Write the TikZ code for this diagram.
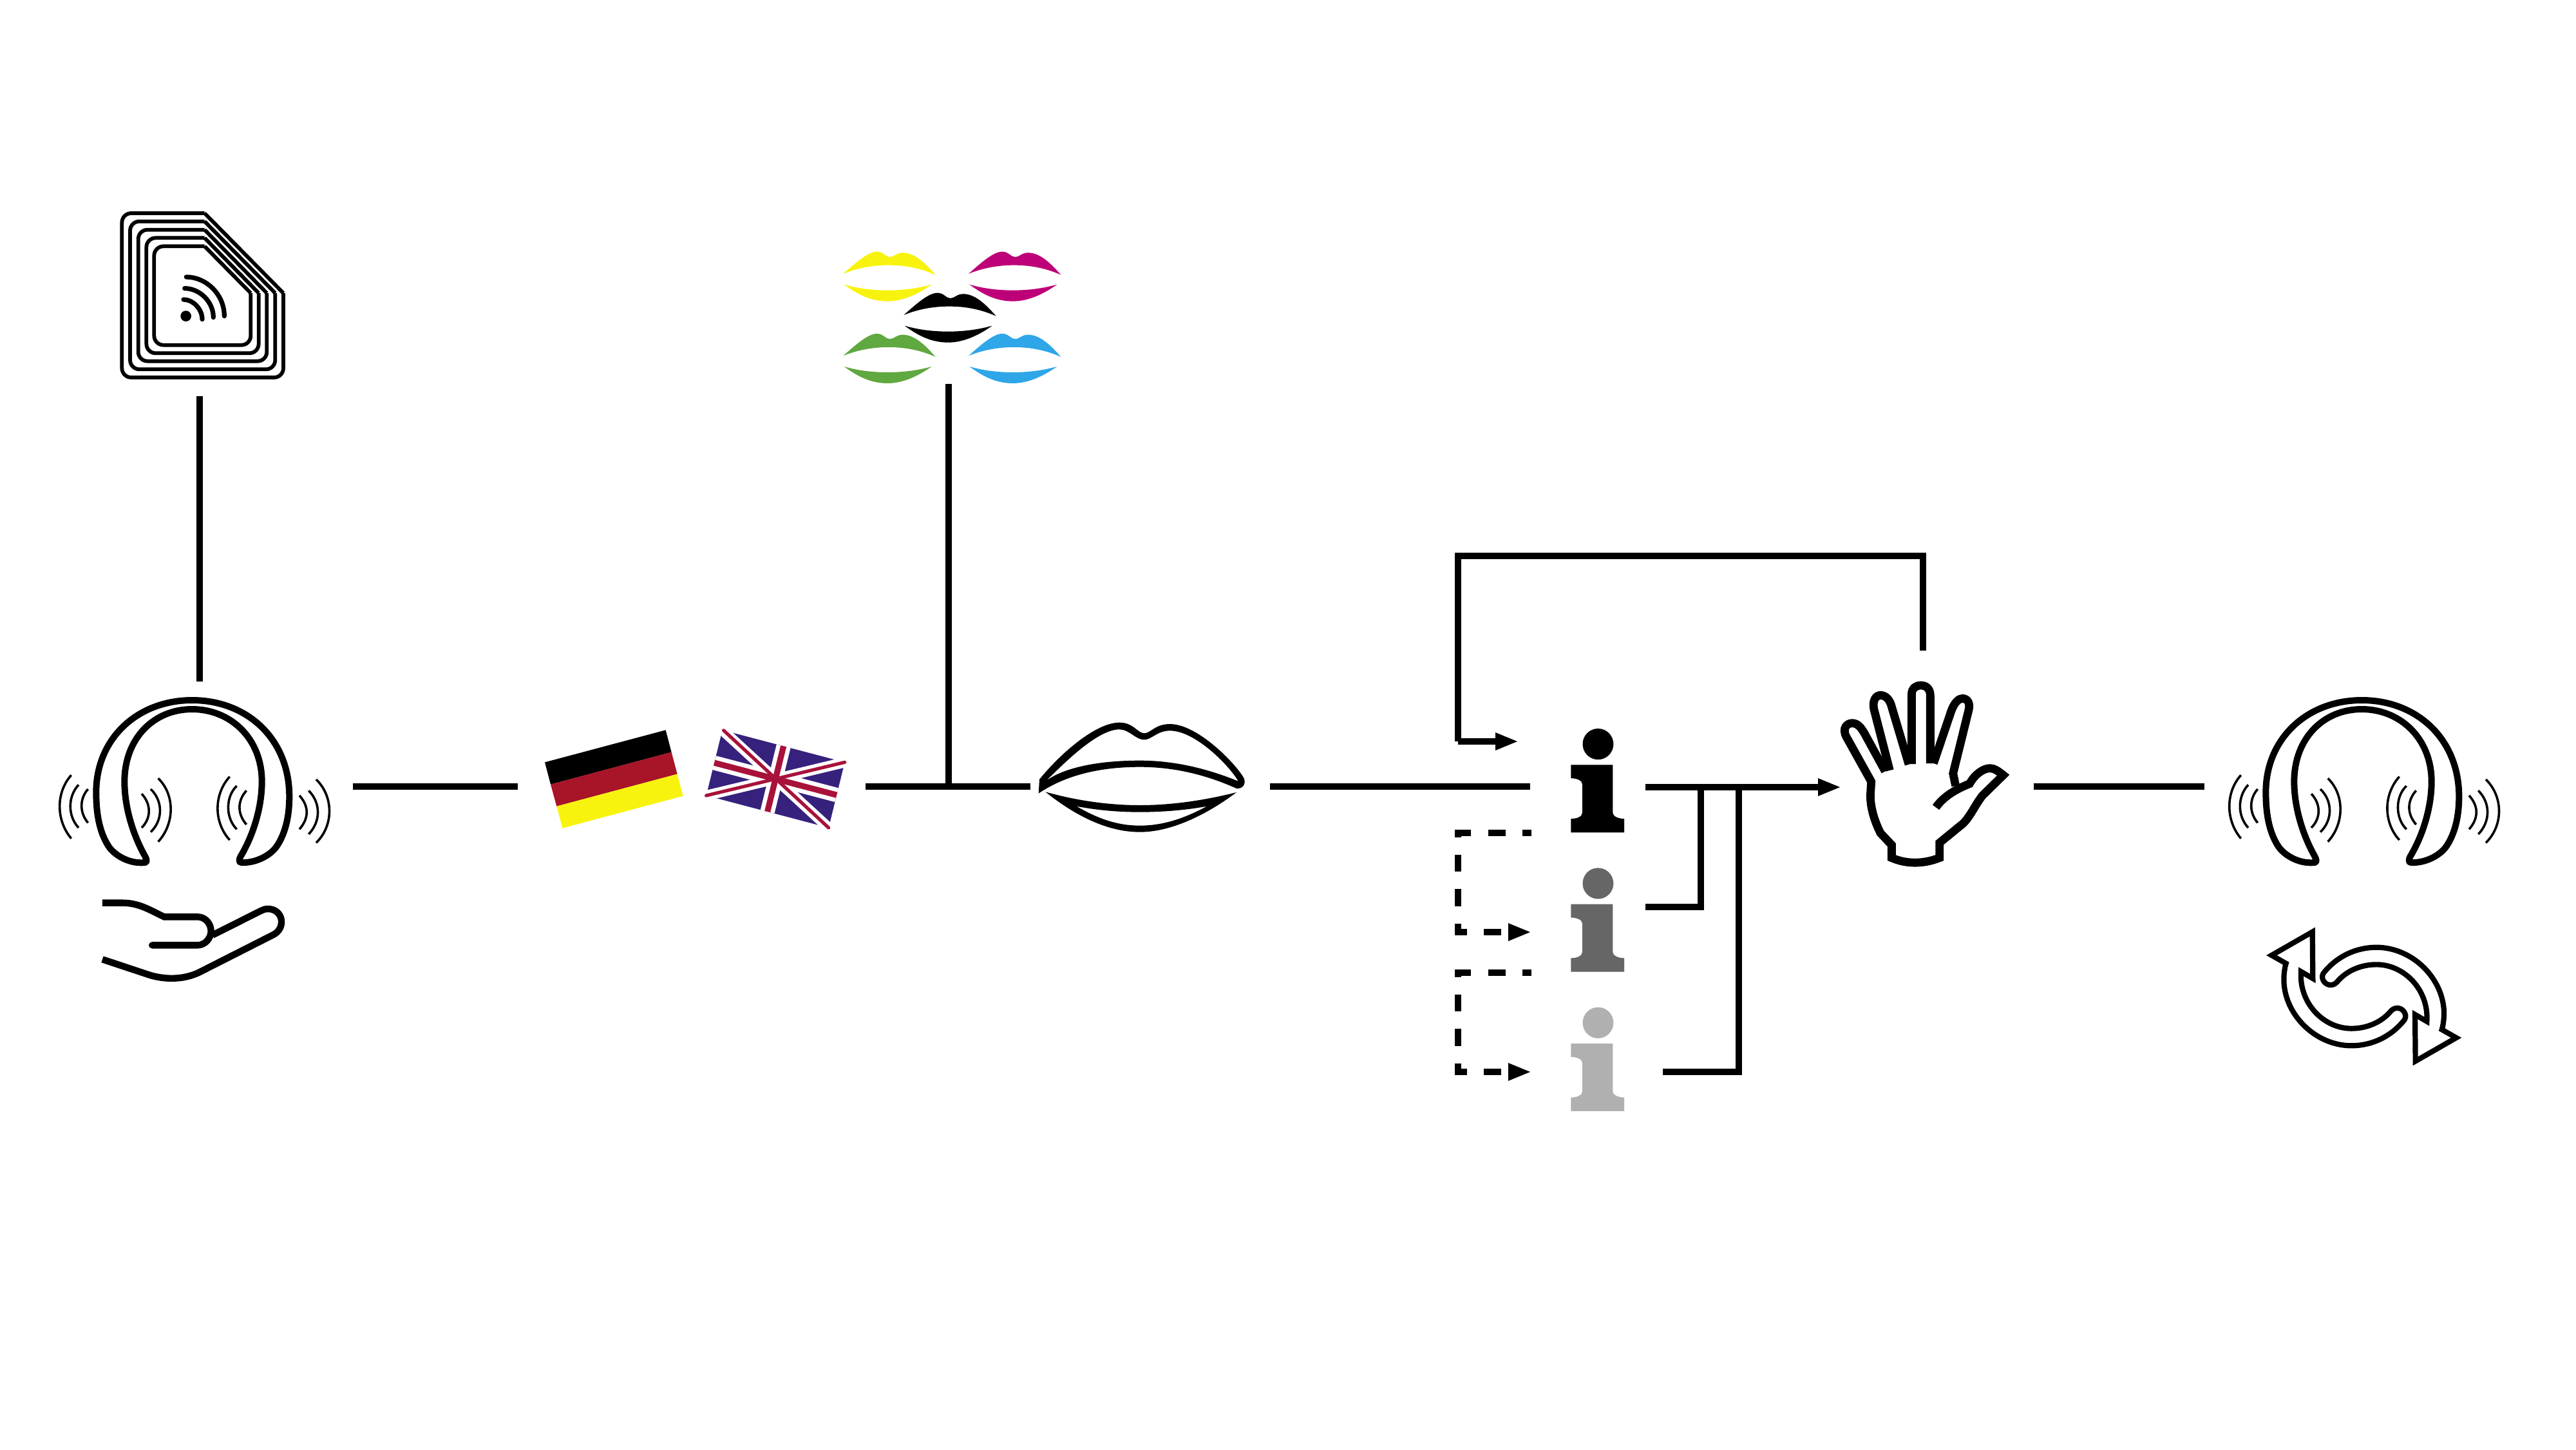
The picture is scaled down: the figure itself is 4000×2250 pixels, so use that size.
\documentclass[tikz,border=0pt]{standalone}
\usetikzlibrary{arrows.meta,calc}
\definecolor{ylw}{HTML}{F8F30E}
\definecolor{mgn}{HTML}{BE0078}
\definecolor{grn}{HTML}{60A840}
\definecolor{cyn}{HTML}{2EA6E8}
\definecolor{dered}{HTML}{A81428}
\definecolor{ukblue}{HTML}{36217C}
\definecolor{ukred}{HTML}{A8123A}
\definecolor{midgrey}{HTML}{666666}
\definecolor{ltgrey}{HTML}{B0B0B0}
\tikzset{
  zm/.style 2 args={shift={(#1,#2)},x=0.083333pt,y=-0.083333pt},
  link/.style={line width=2.3pt,black},
  linkarrow/.style={link,-{Triangle[length=9pt,width=6.2pt]}},
  dashlink/.style={link,dash pattern=on 6.7pt off 6.7pt,dash phase=3.3pt,-{Triangle[length=9pt,width=6.2pt]}},
  wave/.style={line width=0.9pt},
  hpline/.style={line width=2.5pt,line join=round},
}
\newcommand{\headset}[2]{%
\begin{scope}[zm={#1}{#2}]
\draw[hpline] (495,897) .. controls (420,905) and (350,860) .. (325,820) .. controls (280,750) and (268,660) .. (268,570) .. controls (268,320) and (460,141) .. (715,141) .. controls (970,141) and (1168,320) .. (1168,590) .. controls (1168,680) and (1150,760) .. (1110,820) .. controls (1080,865) and (1010,900) .. (945,897) .. controls (930,897) and (935,880) .. (940,870) .. controls (1000,770) and (1040,640) .. (1040,520) .. controls (1040,320) and (895,183) .. (715,183) .. controls (535,183) and (400,320) .. (400,520) .. controls (400,640) and (440,770) .. (497,870) .. controls (505,885) and (505,897) .. (495,897) -- cycle;
\draw[wave] (152,490) .. controls (80,570) and (80,700) .. (152,785);
\draw[wave] (186,535) .. controls (135,590) and (135,680) .. (186,735);
\draw[wave] (230,555) .. controls (190,600) and (190,665) .. (230,712);
\draw[wave] (480,577) .. controls (525,625) and (525,690) .. (480,735);
\draw[wave] (522,555) .. controls (580,610) and (580,700) .. (522,755);
\draw[wave] (557,505) .. controls (635,580) and (635,715) .. (557,800);
\draw[wave] (890,497) .. controls (815,580) and (815,710) .. (890,792);
\draw[wave] (923,540) .. controls (870,590) and (870,690) .. (923,742);
\draw[wave] (968,562) .. controls (925,610) and (925,670) .. (968,720);
\draw[wave] (1215,585) .. controls (1260,635) and (1260,690) .. (1215,742);
\draw[wave] (1258,562) .. controls (1315,620) and (1315,705) .. (1258,765);
\draw[wave] (1293,510) .. controls (1375,590) and (1375,725) .. (1293,805);
\end{scope}}
\newcommand{\minilip}[3]{%
\begin{scope}[zm={1280}{360},shift={(#1,#2)}]
\fill[#3] (88,195) .. controls (150,140) and (205,92) .. (245,92) .. controls (275,92) and (285,117) .. (305,117) .. controls (325,117) and (335,97) .. (365,97) .. controls (420,97) and (470,145) .. (518,200) .. controls (450,170) and (380,155) .. (300,155) .. controls (220,155) and (150,170) .. (88,195) -- cycle;
\fill[#3] (92,245) .. controls (160,265) and (230,272) .. (295,272) .. controls (370,272) and (440,262) .. (500,245) .. controls (430,295) and (360,323) .. (295,323) .. controls (220,323) and (160,295) .. (92,245) -- cycle;
\end{scope}}
\newcommand{\infoi}[2]{%
\begin{scope}[shift={(2240,1120)},x=0.089286pt,y=-0.102041pt,shift={(0,#1)}]
\fill[#2] (676,86) ellipse [x radius=67,y radius=59];
\fill[#2] (558,165) -- (740,165) -- (740,345) .. controls (740,362) and (765,370) .. (790,370) -- (790,422) -- (558,422) -- (558,370) .. controls (585,370) and (608,362) .. (608,345) -- (608,240) .. controls (608,225) and (585,216) .. (558,216) -- cycle;
\end{scope}}
\newcommand{\turnarrow}{%
\draw[line width=2.05pt,miter limit=10] (325,270) .. controls (390,190) and (480,152) .. (570,152) .. controls (740,152) and (885,300) .. (885,460) .. controls (885,490) and (880,520) .. (875,535) -- (942,573) -- (752,682) -- (750,465) -- (805,497) .. controls (815,350) and (700,232) .. (570,232) .. controls (500,232) and (430,260) .. (385,315) .. controls (365,335) and (335,330) .. (322,305) .. controls (315,290) and (318,280) .. (325,270) -- cycle;}
\begin{document}
\begin{tikzpicture}[x=0.25pt,y=-0.25pt]
\useasboundingbox (0,0) rectangle (4000,2250);
\fill[white] (0,0) rectangle (4000,2250);

% RFID tag
\begin{scope}[zm={160}{300},line width=1.45pt]
\foreach \l/\t/\r/\b in {88/93/840/858,126/131/802/820,164/170/763/782,202/208/725/745,238/247/688/707}{
 \draw[rounded corners=3.6pt] (473,\t) -- (\l,\t) -- (\l,\b) -- (\r,\b) -- (\r,465);
 \draw (\r,465) -- (473,\t);
}
\fill (386,572) circle (25);
\draw[line width=1.8pt,line cap=round] (375,495) .. controls (420,495) and (462,540) .. (462,587);
\draw[line width=1.8pt,line cap=round] (380,443) .. controls (450,443) and (514,505) .. (514,578);
\draw[line width=1.8pt,line cap=round] (388,390) .. controls (480,390) and (565,470) .. (565,572);
\end{scope}

% headphones
\headset{60}{1040}
\headset{3429}{1040}

% offering hand
\begin{scope}[zm={60}{1040},line width=2.6pt]
\draw (297,1085) -- (390,1085) .. controls (470,1085) and (520,1120) .. (585,1150) -- (740,1150) .. controls (775,1150) and (803,1180) .. (803,1217) .. controls (803,1250) and (775,1282) .. (740,1282) -- (528,1282);
\fill (528,1282) circle (15);
\draw (297,1348) -- (520,1422) .. controls (600,1445) and (680,1440) .. (745,1410) -- (1090,1235) .. controls (1155,1205) and (1140,1113) .. (1068,1113) .. controls (1055,1113) and (1045,1117) .. (1035,1122) -- (810,1235);
\end{scope}

% small lips
\minilip{0}{0}{ylw}
\minilip{584}{0}{mgn}
\minilip{0}{382}{grn}
\minilip{584}{382}{cyn}
\minilip{282}{192}{black}

% german flag
\begin{scope}[zm={820}{1100}]
\fill[black] (78,250) -- (641,100) -- (668,203) -- (105,353) -- cycle;
\fill[dered] (105,353) -- (668,203) -- (695,305) -- (133,455) -- cycle;
\fill[ylw] (133,455) -- (695,305) -- (722,407) -- (160,557) -- cycle;
\end{scope}

% UK flag
\begin{scope}[shift={(1121.67,1133.33)},x={(47.5pt,-12.5pt)},y={(-6.25pt,-25.42pt)}]
\fill[ukblue] (0,0) -- (1,0) -- (1,1) -- (0,1) -- cycle;
\draw[white,line width=4pt] (0,0) -- (1,1) (1,0) -- (0,1);
\draw[white,line width=5.6pt] (0.5,0) -- (0.5,1) (0,0.5) -- (1,0.5);
\draw[ukred,line width=1.3pt,line cap=round] (0.01,0) -- (1,1) (1,0) -- (0,1);
\draw[ukred,line width=2.3pt] (0.5,0) -- (0.5,1) (0,0.5) -- (1,0.5);
\end{scope}

% big lips
\begin{scope}[zm={1600}{1100}]
\fill[even odd rule] (38,395) -- (42,330) .. controls (130,220) and (300,65) .. (415,65) .. controls (480,65) and (500,115) .. (530,115) .. controls (560,115) and (580,72) .. (650,72) .. controls (780,72) and (960,260) .. (995,325) .. controls (1005,350) and (990,375) .. (960,372) .. controls (800,300) and (650,272) .. (510,272) .. controls (300,272) and (150,320) .. (38,395) -- cycle
(75,335) .. controls (180,230) and (320,97) .. (415,97) .. controls (460,97) and (490,145) .. (530,145) .. controls (565,145) and (590,103) .. (650,103) .. controls (770,103) and (930,270) .. (968,338) .. controls (800,270) and (650,242) .. (510,242) .. controls (300,242) and (150,280) .. (75,335) -- cycle;
\fill[even odd rule] (70,388) .. controls (220,430) and (370,450) .. (510,450) .. controls (650,450) and (800,430) .. (960,390) .. controls (800,510) and (640,575) .. (510,575) .. controls (360,575) and (210,500) .. (70,388) -- cycle
(215,455) .. controls (320,475) and (420,482) .. (510,482) .. controls (620,482) and (730,472) .. (822,455) .. controls (720,510) and (620,545) .. (510,545) .. controls (400,545) and (310,510) .. (215,455) -- cycle;
\end{scope}

% info icons
\infoi{0}{black}
\infoi{530}{midgrey}
\infoi{1060}{ltgrey}

% hand
\begin{scope}[zm={2840}{1040},line width=3.2pt,miter limit=10]
\draw (498,640) .. controls (530,595) and (580,560) .. (655,530) .. controls (680,485) and (720,458) .. (750,458) .. controls (770,458) and (790,472) .. (812,490) -- (715,585) .. controls (680,630) and (660,680) .. (625,715) -- (515,805) -- (515,875) .. controls (440,905) and (360,905) .. (292,875) -- (292,815) -- (240,760) .. controls (210,700) and (193,640) .. (193,585) -- (197,520) -- (80,310) .. controls (60,270) and (85,248) .. (108,248) .. controls (135,248) and (150,270) .. (165,295) -- (262,472);
\draw (283,468) -- (210,185) .. controls (200,140) and (220,118) .. (240,118) .. controls (265,118) and (285,140) .. (293,175) -- (372,440);
\draw (385,438) -- (385,115) .. controls (385,85) and (405,72) .. (428,72) .. controls (455,72) and (472,90) .. (472,120) -- (472,435);
\draw (487,435) -- (570,190) .. controls (585,150) and (605,133) .. (622,133) .. controls (645,133) and (660,155) .. (650,190) -- (578,482) -- (590,540);
\end{scope}

% cycle arrows
\begin{scope}[zm={3500}{1420}]
\turnarrow
\begin{scope}[shift={(1024,762)},xscale=-1,yscale=-1]
\turnarrow
\end{scope}
\end{scope}

% connector anchors
\coordinate (tagB) at (310,615);
\coordinate (hpT) at (310,1058);
\coordinate (hpR) at (548,1221);
\coordinate (deL) at (804,1221);
\coordinate (ukR) at (1344,1221);
\coordinate (lipL) at (1600,1221);
\coordinate (lipR) at (1972,1221);
\coordinate (iL) at (2376,1221);
\coordinate (iR) at (2555,1222);
\coordinate (handL) at (2859,1222);
\coordinate (minis) at (1473,596);
\coordinate (join) at (1473,1221);
\coordinate (handT) at (2986,1010);
\coordinate (loopTop) at (2986,863);
\coordinate (loopL) at (2264,863);
\coordinate (iT) at (2358,1151);
\coordinate (handR) at (3158,1221);
\coordinate (hp2L) at (3423,1221);
\coordinate (jA) at (2641,1222);
\coordinate (jB) at (2700,1222);
\coordinate (i2R) at (2555,1408);
\coordinate (i3R) at (2582,1664);
\coordinate (d1) at (2378,1293);
\coordinate (i2L) at (2378,1447);
\coordinate (d2) at (2378,1510);
\coordinate (i3L) at (2378,1664);

% connectors
\draw[link] (tagB) -- (hpT);
\draw[link] (hpR) -- (deL);
\draw[link] (ukR) -- (lipL);
\draw[link] (minis) -- (join);
\draw[link] (lipR) -- (iL);
\draw[linkarrow] (iR) -- (handL);
\draw[link] (i2R) -| (jA);
\draw[link] (i3R) -| (jB);
\draw[link] (handT) -- (loopTop) -- (loopL) -- ++(0,288) coordinate (loopC);
\draw[linkarrow] (loopC) -- (iT);
\draw[dashlink] (d1) -- (2264,1293) -- (2264,1447) -- (i2L);
\draw[dashlink] (d2) -- (2264,1510) -- (2264,1664) -- (i3L);
\draw[link] (handR) -- (hp2L);
\end{tikzpicture}
\end{document}
